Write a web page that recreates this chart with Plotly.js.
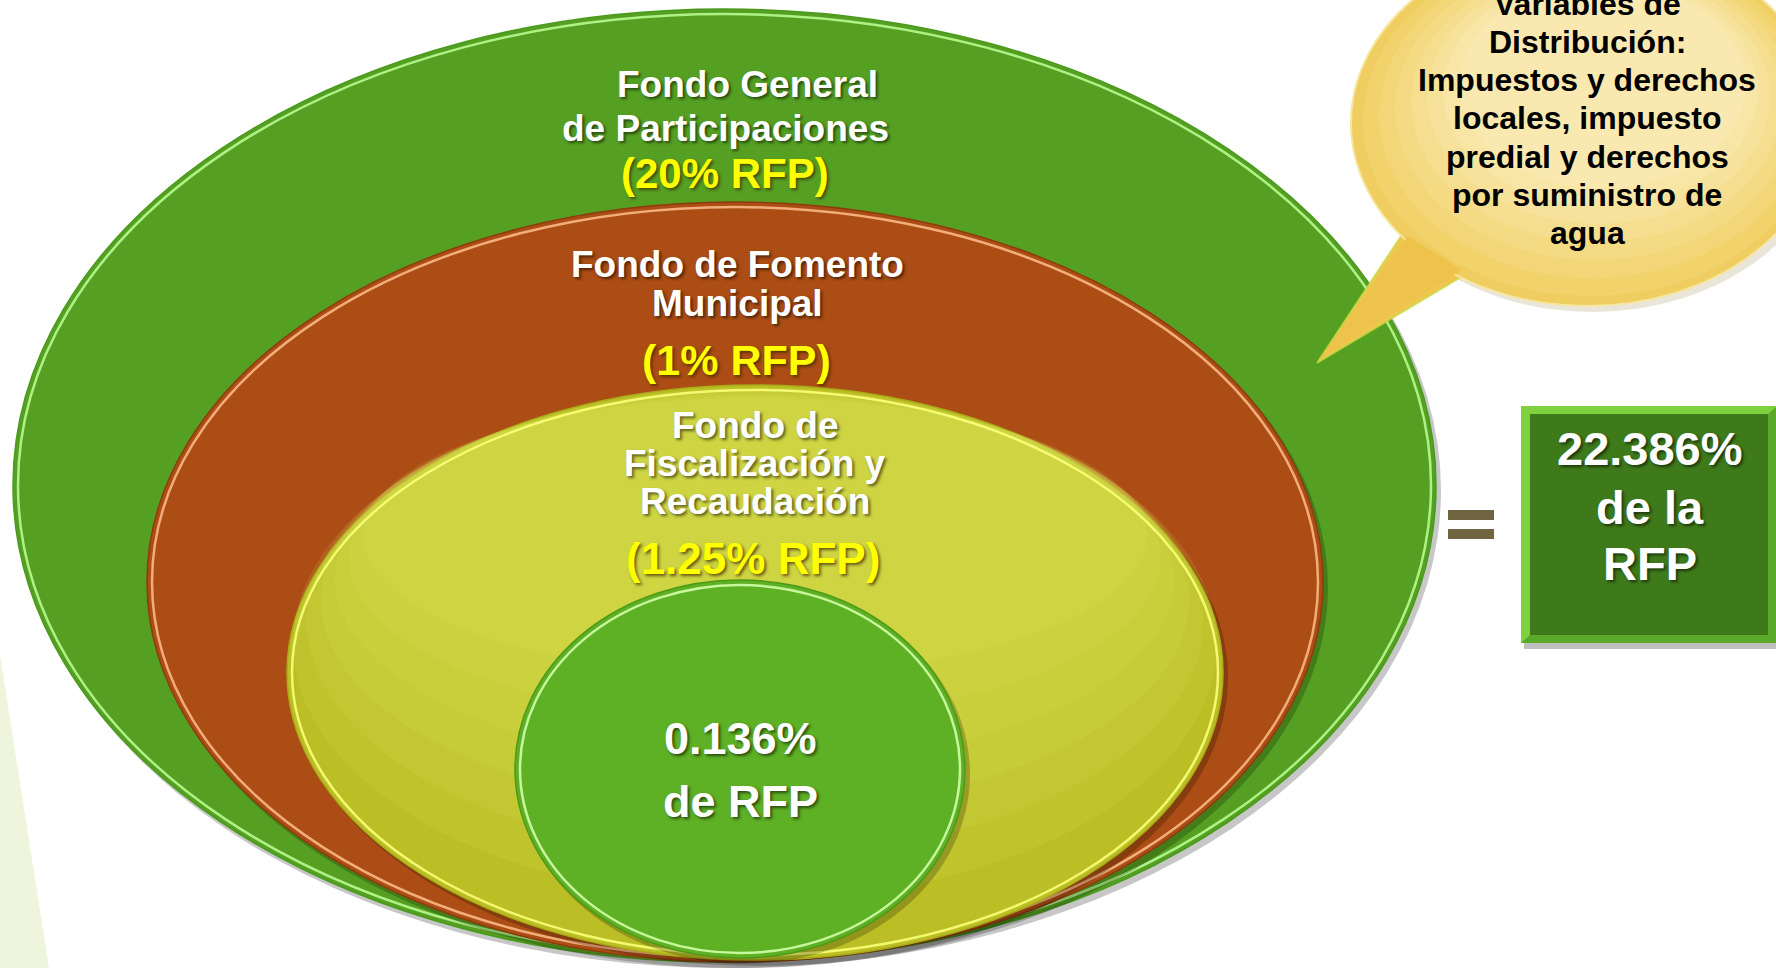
<!DOCTYPE html>
<html>
<head>
<meta charset="utf-8">
<script src="https://cdn.plot.ly/plotly-3.0.1.min.js"></script>
<style>html,body{margin:0;padding:0;background:#fff;}#chart{width:1776px;height:968px;}</style>
</head>
<body>
<div id="chart"></div>
<script>
// ---- content ----
const fundTitleLines = [
  ['Fondo General', 'de Participaciones'],
  ['Fondo de Fomento', 'Municipal'],
  ['Fondo de', 'Fiscalización y', 'Recaudación']
];
const fundShares = ['(20% RFP)', '(1% RFP)', '(1.25% RFP)'];
const innerShareLines = ['0.136%', 'de RFP'];
const totalLines = ['22.386%', 'de la', 'RFP'];
const bubbleLines = ['Variables de', 'Distribución:', 'Impuestos y derechos', 'locales, impuesto', 'predial y derechos', 'por suministro de', 'agua'];

// ---- geometry (layout only) ----
const rings = [
  {x0: 13, x1: 1436, y0: 9, y1: 962, fill: '#55a022', rim: 'rgba(190,255,150,0.85)', edge: '#4a9a1c'},
  {x0: 147, x1: 1323, y0: 202, y1: 962, fill: '#ab4d14', rim: 'rgba(255,190,140,0.85)', edge: '#8e3c0c'},
  {x0: 287, x1: 1223, y0: 385, y1: 960, fill: '#bbbf25', rim: 'rgba(250,255,120,0.9)', edge: '#a9ac18'},
  {x0: 515, x1: 965, y0: 580, y1: 958, fill: '#5eb024', rim: 'rgba(210,255,170,0.9)', edge: '#4e9a18'}
];

const shapes = [];
// pale wedge on left
shapes.push({type: 'path', xref: 'x', yref: 'y', path: 'M 0 655 L 49 968 L 0 968 Z', fillcolor: '#eef5dc', line: {width: 0}, layer: 'below'});

rings.forEach((r, i) => {
  // shadow
  shapes.push({type: 'circle', xref: 'x', yref: 'y', x0: r.x0 + 3, x1: r.x1 + 5, y0: r.y0 + 4, y1: r.y1 + 6,
    fillcolor: 'rgba(0,0,0,0.22)', line: {width: 0}});
  shapes.push({type: 'circle', xref: 'x', yref: 'y', x0: r.x0, x1: r.x1, y0: r.y0, y1: r.y1,
    fillcolor: r.fill, line: {color: r.edge, width: 1.5}});
  // soft vertical lightening for the yellow ring (stacked faint layers)
  if (i === 2) {
    for (let k = 0; k < 6; k++) {
      shapes.push({type: 'circle', xref: 'x', yref: 'y',
        x0: r.x0 + 6 + k * 14, x1: r.x1 - 6 - k * 14, y0: r.y0 + 3 + k * 2, y1: r.y1 - 60 - k * 45,
        fillcolor: 'rgba(222,228,95,0.13)', line: {width: 0}});
    }
  }
  // inner rim highlight
  shapes.push({type: 'circle', xref: 'x', yref: 'y', x0: r.x0 + 5, x1: r.x1 - 5, y0: r.y0 + 5, y1: r.y1 - 5,
    fillcolor: 'rgba(0,0,0,0)', line: {color: r.rim, width: 2.5}});
});

// speech bubble
shapes.push({type: 'circle', xref: 'x', yref: 'y', x0: 1355, x1: 1830, y0: -55, y1: 312,
  fillcolor: 'rgba(120,100,20,0.16)', line: {width: 0}});
shapes.push({type: 'path', xref: 'x', yref: 'y', path: 'M 1317 363 L 1403 233 L 1440 220 L 1480 262 L 1468 273 Z',
  fillcolor: '#eec650', line: {color: 'rgba(200,220,60,0.7)', width: 2}});
shapes.push({type: 'circle', xref: 'x', yref: 'y', x0: 1351, x1: 1824, y0: -60, y1: 306,
  fillcolor: '#efcd60', line: {color: '#f6e6a0', width: 2}});
const bubbleSteps = ['#f1d26b', '#f2d677', '#f4da83', '#f5de8f', '#f6e29b', '#f8e6a7', '#f9e9b1'];
bubbleSteps.forEach((c, k) => {
  shapes.push({type: 'circle', xref: 'x', yref: 'y',
    x0: 1351 + 12 + k * 16, x1: 1824 - 6 - k * 12, y0: -60 + 6 + k * 6, y1: 306 - 10 - k * 18,
    fillcolor: c, line: {width: 0}});
});
shapes.push({type: 'path', xref: 'x', yref: 'y', path: 'M 1320 358 L 1408 236 L 1462 270 Z',
  fillcolor: '#eec34c', line: {width: 0}});

// equals sign
shapes.push({type: 'rect', xref: 'x', yref: 'y', x0: 1448, x1: 1494, y0: 510, y1: 520, fillcolor: '#6f6641', line: {width: 0}});
shapes.push({type: 'rect', xref: 'x', yref: 'y', x0: 1448, x1: 1494, y0: 529, y1: 539, fillcolor: '#6f6641', line: {width: 0}});

// total box
shapes.push({type: 'rect', xref: 'x', yref: 'y', x0: 1524, x1: 1780, y0: 410, y1: 649, fillcolor: 'rgba(0,0,0,0.25)', line: {width: 0}});
shapes.push({type: 'rect', xref: 'x', yref: 'y', x0: 1521, x1: 1777, y0: 406, y1: 643, fillcolor: '#5aa928', line: {width: 0}});
shapes.push({type: 'path', xref: 'x', yref: 'y', path: 'M 1521 406 L 1777 406 L 1768 414 L 1530 414 L 1530 635 L 1521 643 Z', fillcolor: '#7ed23e', line: {width: 0}});
shapes.push({type: 'rect', xref: 'x', yref: 'y', x0: 1530, x1: 1768, y0: 414, y1: 635, fillcolor: '#3e7a1a', line: {width: 0}});

// ---- annotations ----
const FONT = '"Liberation Sans", Arial, sans-serif';
const whiteShadow = '2px 2px 3px rgba(0,0,0,0.55)';
const annotations = [];
function addText(txt, x, y, size, color, shadow) {
  annotations.push({text: '<b>' + txt + '</b>', x: x, y: y, xref: 'x', yref: 'y', showarrow: false,
    xanchor: 'center', yanchor: 'middle',
    font: {family: FONT, size: size, color: color, shadow: shadow || 'none'}});
}
const titlePos = [
  [[747, 84], [725, 128]],
  [[737, 264], [737, 303]],
  [[755, 425], [755, 463], [755, 501]]
];
const sharePos = [[725, 173, 42], [736, 360, 43], [753, 558, 44]];
fundTitleLines.forEach((lines, i) => {
  lines.forEach((ln, j) => addText(ln, titlePos[i][j][0], titlePos[i][j][1], 37, '#ffffff', whiteShadow));
  addText(fundShares[i], sharePos[i][0], sharePos[i][1], sharePos[i][2], '#ffff00', '2px 2px 3px rgba(60,40,0,0.7)');
});
const innerPos = [[740, 738], [740, 801]];
innerShareLines.forEach((ln, j) => addText(ln, innerPos[j][0], innerPos[j][1], 45, '#ffffff', whiteShadow));
const totalPos = [[1650, 448], [1650, 507], [1650, 563]];
totalLines.forEach((ln, j) => addText(ln, totalPos[j][0], totalPos[j][1], 47, '#ffffff', whiteShadow));
const bubbleY = [4, 42, 80, 118, 157, 195, 233];
bubbleLines.forEach((ln, j) => addText(ln, 1587, bubbleY[j], 32, '#000000'));

const layout = {
  width: 1776, height: 968,
  margin: {l: 0, r: 0, t: 0, b: 0},
  paper_bgcolor: '#ffffff', plot_bgcolor: '#ffffff',
  xaxis: {range: [0, 1776], visible: false, fixedrange: true},
  yaxis: {range: [968, 0], visible: false, fixedrange: true},
  showlegend: false,
  shapes: shapes,
  annotations: annotations
};
Plotly.newPlot('chart', [], layout, {staticPlot: true, displayModeBar: false});
</script>
</body>
</html>
